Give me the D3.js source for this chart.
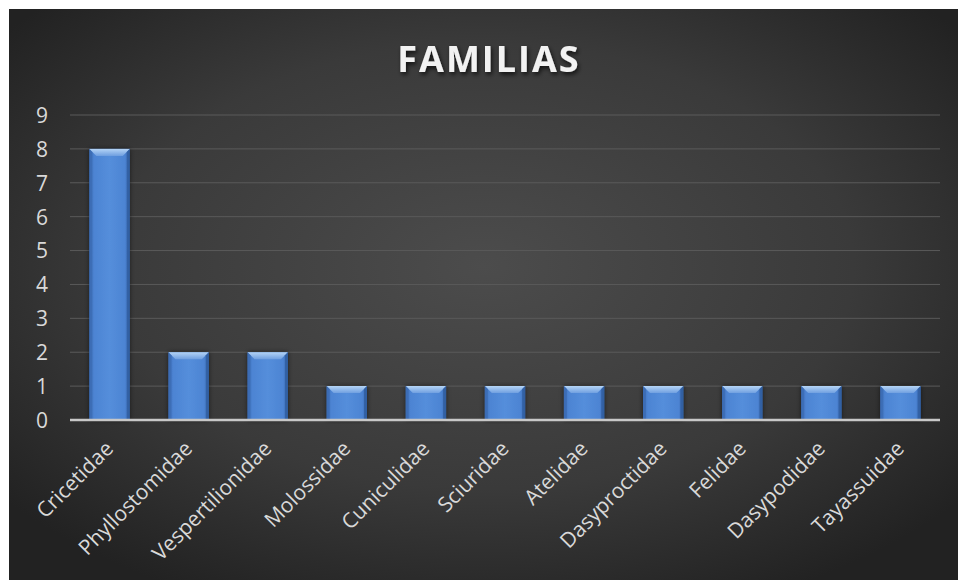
<!DOCTYPE html>
<html>
<head>
<meta charset="utf-8">
<script src="https://cdn.jsdelivr.net/npm/d3@7"></script>
<style>
  html, body { margin: 0; padding: 0; background: #ffffff; }
  svg { display: block; }
</style>
</head>
<body>
<svg id="chart" width="958" height="580"></svg>
<script>
// Familias y número de especies
const categories = ["Cricetidae", "Phyllostomidae", "Vespertilionidae", "Molossidae", "Cuniculidae",
  "Sciuridae", "Atelidae", "Dasyproctidae", "Felidae", "Dasypodidae", "Tayassuidae"];
const values = [8, 2, 2, 1, 1, 1, 1, 1, 1, 1, 1];
const yTicks = [0, 1, 2, 3, 4, 5, 6, 7, 8, 9];
const title = "FAMILIAS";

const W = 958, H = 580;
const svg = d3.select("#chart");
const defs = svg.append("defs");

// Background: dark radial gradient
const bg = defs.append("radialGradient").attr("id", "bgGrad")
  .attr("cx", "50%").attr("cy", "45%").attr("r", "65%");
bg.append("stop").attr("offset", "0%").attr("stop-color", "#4c4c4c");
bg.append("stop").attr("offset", "60%").attr("stop-color", "#3a3a3a");
bg.append("stop").attr("offset", "100%").attr("stop-color", "#222222");

// Bar body gradient (horizontal, darker edges)
const barG = defs.append("linearGradient").attr("id", "barGrad")
  .attr("x1", "0").attr("x2", "1").attr("y1", "0").attr("y2", "0");
barG.append("stop").attr("offset", "0%").attr("stop-color", "#3d6fb8");
barG.append("stop").attr("offset", "12%").attr("stop-color", "#4d84d3");
barG.append("stop").attr("offset", "50%").attr("stop-color", "#548edb");
barG.append("stop").attr("offset", "88%").attr("stop-color", "#4d84d3");
barG.append("stop").attr("offset", "100%").attr("stop-color", "#3768b0");

// Bevel top gradient
const bevG = defs.append("linearGradient").attr("id", "bevGrad")
  .attr("x1", "0").attr("x2", "0").attr("y1", "0").attr("y2", "1");
bevG.append("stop").attr("offset", "0%").attr("stop-color", "#b4d4f6");
bevG.append("stop").attr("offset", "100%").attr("stop-color", "#6f9fe0");

// Title shadow
const sh = defs.append("filter").attr("id", "tshadow")
  .attr("x", "-10%").attr("y", "-30%").attr("width", "120%").attr("height", "160%");
sh.append("feDropShadow").attr("dx", 1.5).attr("dy", 2.5).attr("stdDeviation", 2)
  .attr("flood-color", "#000").attr("flood-opacity", 0.7);

// Bar shadow
const bs = defs.append("filter").attr("id", "bshadow")
  .attr("x", "-30%").attr("y", "-10%").attr("width", "160%").attr("height", "120%");
bs.append("feDropShadow").attr("dx", 0).attr("dy", 0).attr("stdDeviation", 2.5)
  .attr("flood-color", "#000").attr("flood-opacity", 0.55);

svg.append("rect").attr("x", 9).attr("y", 9).attr("width", W - 9).attr("height", H - 9)
  .attr("fill", "url(#bgGrad)");

const plot = { left: 70, right: 940, top: 115, bottom: 420 };

const x = d3.scaleBand().domain(categories).range([plot.left, plot.right])
  .paddingInner(0.49).paddingOuter(0.245);
const y = d3.scaleLinear().domain([0, 9]).range([plot.bottom, plot.top]);

// Gridlines
svg.append("g").selectAll("line").data(yTicks.filter(d => d > 0)).join("line")
  .attr("x1", plot.left).attr("x2", plot.right)
  .attr("y1", d => y(d)).attr("y2", d => y(d))
  .attr("stroke", "#5a5a5a").attr("stroke-width", 1);

// Y axis labels
const yAxis = d3.axisLeft(y).tickValues(yTicks).tickSize(0).tickPadding(0);
const gy = svg.append("g").attr("transform", `translate(42,0)`).call(yAxis);
gy.select(".domain").remove();
gy.attr("font-size", null).attr("font-family", null);
gy.selectAll("text")
  .attr("fill", "#d9d9d9")
  .style("font-family", "'Open Sans', 'Noto Sans', sans-serif")
  .style("font-size", "21px").attr("text-anchor", "middle").attr("dy", "0.35em");

// Bars
const bars = svg.append("g").selectAll("g.bar").data(categories.map((c, i) => ({ c, v: values[i] })))
  .join("g").attr("class", "bar");

bars.append("rect")
  .attr("x", d => x(d.c)).attr("y", d => y(d.v))
  .attr("width", x.bandwidth()).attr("height", d => y(0) - y(d.v))
  .attr("fill", "url(#barGrad)").attr("filter", "url(#bshadow)");

// Bevel on top of each bar
const bev = 7;
bars.append("path")
  .attr("d", d => {
    const x0 = x(d.c), x1 = x0 + x.bandwidth(), yt = y(d.v);
    return `M${x0},${yt} L${x1},${yt} L${x1 - bev},${yt + bev} L${x0 + bev},${yt + bev} Z`;
  })
  .attr("fill", "url(#bevGrad)");
// side bevels
bars.append("path")
  .attr("d", d => {
    const x0 = x(d.c), yt = y(d.v), yb = y(0);
    return `M${x0},${yt} L${x0 + 3},${yt + 3} L${x0 + 3},${yb} L${x0},${yb} Z`;
  })
  .attr("fill", "#3a69b0").attr("opacity", 0.7);
bars.append("path")
  .attr("d", d => {
    const x1 = x(d.c) + x.bandwidth(), yt = y(d.v), yb = y(0);
    return `M${x1},${yt} L${x1 - 3},${yt + 3} L${x1 - 3},${yb} L${x1},${yb} Z`;
  })
  .attr("fill", "#2f5c9e").attr("opacity", 0.8);

// Baseline
svg.append("line")
  .attr("x1", plot.left).attr("x2", plot.right)
  .attr("y1", y(0)).attr("y2", y(0))
  .attr("stroke", "#c8c8c8").attr("stroke-width", 2.5);

// X axis labels, rotated
const xAxis = d3.axisBottom(x).tickSize(0).tickPadding(0);
const gx = svg.append("g").attr("transform", `translate(0,${y(0)})`).call(xAxis);
gx.select(".domain").remove();
gx.attr("font-size", null).attr("font-family", null);
gx.selectAll("text")
  .attr("fill", "#d9d9d9")
  .style("font-family", "'Open Sans', 'Noto Sans', sans-serif")
  .style("font-size", "21px").attr("text-anchor", "end")
  .attr("dy", null).attr("y", 0)
  .attr("transform", "translate(5,30) rotate(-45)");

// Title
svg.append("text")
  .attr("x", 489).attr("y", 72).attr("text-anchor", "middle")
  .style("font-family", "'Open Sans', 'Noto Sans', sans-serif")
  .style("font-weight", 700).style("font-size", "36px").attr("letter-spacing", 2)
  .attr("fill", "#f2f2f2").attr("filter", "url(#tshadow)")
  .text(title);
</script>
</body>
</html>
